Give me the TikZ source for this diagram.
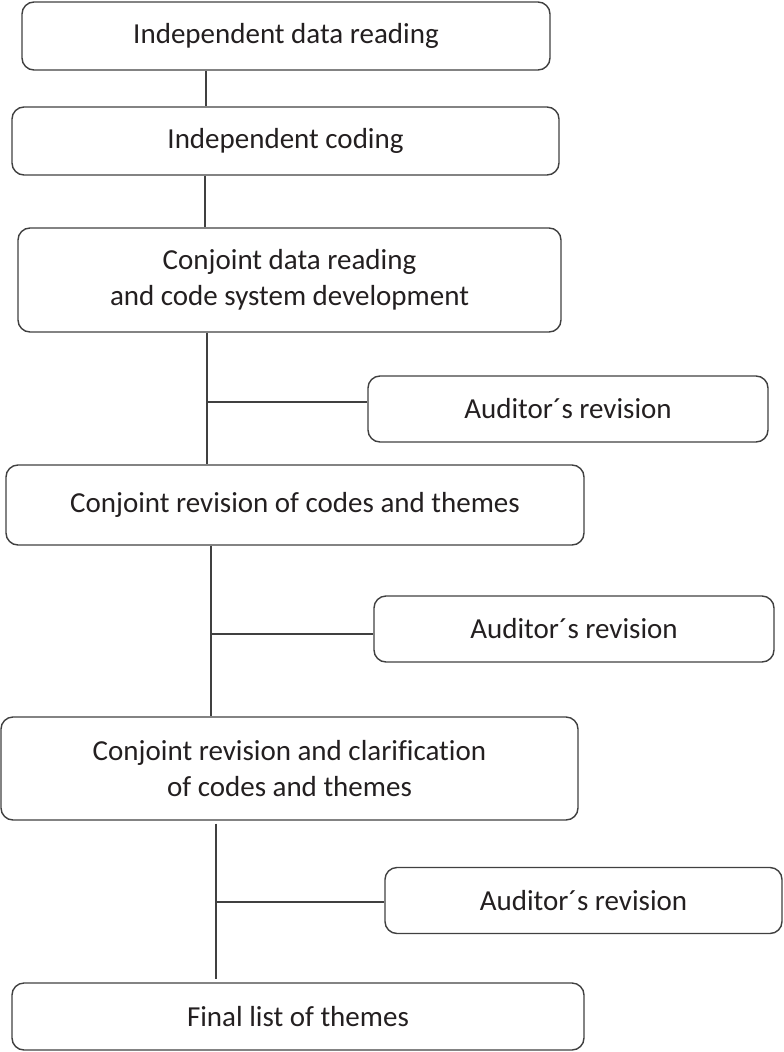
\documentclass[tikz,border=0pt]{standalone}
\usepackage{fontspec}
\setmainfont{Carlito}[Ligatures=NoCommon]
\usepackage{xcolor}
\usetikzlibrary{positioning}
\definecolor{framegray}{RGB}{64,64,64}
\definecolor{inkgray}{RGB}{35,31,32}
\tikzset{
  stage/.style={rectangle, rounded corners=12pt, draw=framegray, line width=1.4pt,
    text=inkgray, font=\fontsize{29}{36}\selectfont, align=center, inner sep=0pt},
  audit/.style={stage, minimum height=66pt},
  link/.style={draw=framegray, line width=1.3pt},
}
\begin{document}
\begin{tikzpicture}[x=1pt, y=-1pt]
\useasboundingbox (0,0) rectangle (784,1052);
% main stages
\node[stage, minimum width=528pt, minimum height=68pt] (indep) at (286,36) {Independent data reading};
\node[stage, minimum width=547pt, minimum height=68pt] (coding) at (285.5,141) {Independent coding};
\node[stage, minimum width=543pt, minimum height=104pt] (conjread) at (289.5,280) {Conjoint data reading\\and code system development};
\node[stage, minimum width=578pt, minimum height=80pt] (conjrev) at (295,505) {Conjoint revision of codes and themes};
\node[stage, minimum width=577pt, minimum height=103pt] (clarify) at (289.5,768.5) {Conjoint revision and clarification\\of codes and themes};
\node[stage, minimum width=572pt, minimum height=67pt] (final) at (298,1016.5) {Final list of themes};
% auditor checks
\node[audit, minimum width=400pt] (aud1) at (568,409) {Auditor´s revision};
\node[audit, minimum width=400pt] (aud2) at (574,629) {Auditor´s revision};
\node[audit, minimum width=397pt] (aud3) at (583.5,900.5) {Auditor´s revision};
% joints on the spine
\coordinate (s1) at (206,0);
\coordinate (s2) at (205,0);
\coordinate (j1) at (207,402);
\coordinate (j2) at (211,634);
\coordinate (j3) at (216,902);
\draw[link] (indep.south -| s1) -- (coding.north -| s1);
\draw[link] (coding.south -| s2) -- (conjread.north -| s2);
\draw[link] (conjread.south -| j1) -- (conjrev.north -| j1);
\draw[link] (j1) -- (aud1.west |- j1);
\draw[link] (conjrev.south -| j2) -- (clarify.north -| j2);
\draw[link] (j2) -- (aud2.west |- j2);
\draw[link] ([yshift=-3pt]clarify.south -| j3) -- ([yshift=3pt]final.north -| j3);
\draw[link] (j3) -- (aud3.west |- j3);
\end{tikzpicture}
\end{document}
